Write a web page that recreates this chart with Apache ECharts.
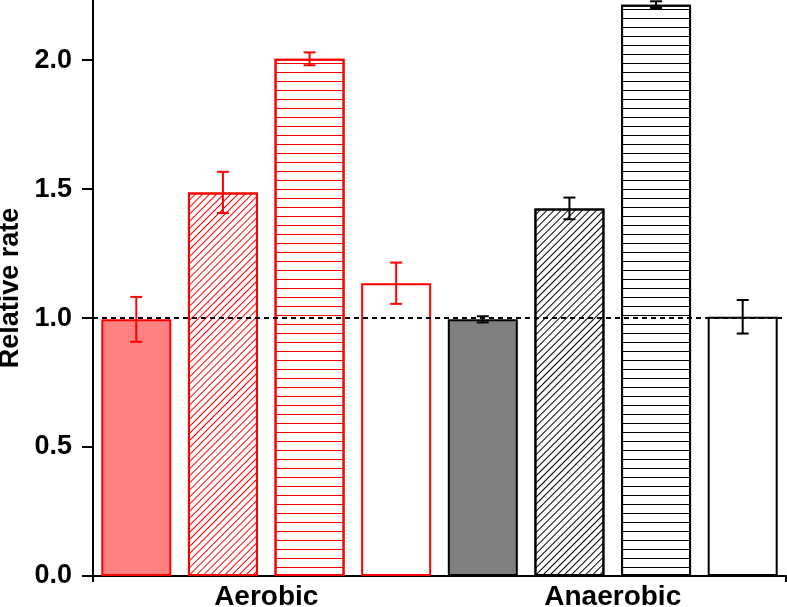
<!DOCTYPE html>
<html><head><meta charset="utf-8">
<script src="https://cdn.jsdelivr.net/npm/echarts@6/dist/echarts.min.js"></script>
<style>html,body{margin:0;padding:0;background:#fff}#chart{width:787px;height:607px}</style>
</head><body><div id="chart"></div>
<script>
// ---- data ----
const groupLabels = ['Aerobic', 'Anaerobic'];
const barKeys = ['Aerobic 1', 'Aerobic 2', 'Aerobic 3', 'Aerobic 4', 'Anaerobic 1', 'Anaerobic 2', 'Anaerobic 3', 'Anaerobic 4'];
const aerobicValues = [0.995, 1.487, 2.005, 1.135];
const aerobicErrors = [0.087, 0.080, 0.025, 0.080];
const anaerobicValues = [0.995, 1.425, 2.215, 1.005];
const anaerobicErrors = [0.012, 0.042, 0.013, 0.065];
const yTicks = [0, 0.5, 1.0, 1.5, 2.0];
const referenceValue = 1.0;
const yMax = 2.233;

// ---- styles ----
const RED = '#FF0000', BLACK = '#000000';
const FONT = 'Liberation Sans, Arial, sans-serif';
function diag(c) { return { symbol: 'rect', symbolSize: 1, color: c, dashArrayX: [1, 0], dashArrayY: [1, 4], rotation: -Math.PI / 4 }; }
function horiz(c) { return { symbol: 'rect', symbolSize: 1, color: c, dashArrayX: [1, 0], dashArrayY: [1, 8], rotation: 0 }; }
const barStyles = [
  { color: '#FF8080', borderColor: RED },
  { color: '#FFFFFF', borderColor: RED, decal: diag(RED) },
  { color: '#FFFFFF', borderColor: RED, decal: horiz(RED) },
  { color: '#FFFFFF', borderColor: RED },
  { color: '#808080', borderColor: BLACK },
  { color: '#FFFFFF', borderColor: BLACK, decal: diag(BLACK) },
  { color: '#FFFFFF', borderColor: BLACK, decal: horiz(BLACK) },
  { color: '#FFFFFF', borderColor: BLACK }
];
const errorColors = [RED, RED, RED, RED, BLACK, BLACK, BLACK, BLACK];

const allValues = aerobicValues.concat(anaerobicValues);
const allErrors = aerobicErrors.concat(anaerobicErrors);
const barData = allValues.map((v, i) => ({
  value: v,
  itemStyle: Object.assign({ borderWidth: 2 }, barStyles[i])
}));
const errData = allValues.map((v, i) => [i, v, allErrors[i]]);

const chart = echarts.init(document.getElementById('chart'), null, { renderer: 'canvas' });
chart.setOption({
  animation: false,
  backgroundColor: '#FFFFFF',
  textStyle: { fontFamily: FONT },
  grid: { left: 93, right: 1, top: 0, bottom: 31, containLabel: false, outerBoundsMode: 'none' },
  xAxis: [
    { type: 'category', data: barKeys, position: 'bottom', boundaryGap: true,
      axisLine: { show: false }, axisTick: { show: false }, axisLabel: { show: false }, splitLine: { show: false } },
    { type: 'category', data: groupLabels, position: 'bottom', offset: 0,
      axisLine: { show: false }, axisTick: { show: false }, splitLine: { show: false },
      axisLabel: { show: true, color: BLACK, fontSize: 28, fontWeight: 'bold', fontFamily: FONT, margin: 7 } },
    { type: 'value', min: 0, max: 1, interval: 1, position: 'bottom', offset: 0,
      axisLine: { show: true, onZero: false, lineStyle: { color: BLACK, width: 2 } },
      axisTick: { show: true, inside: false, length: 6, lineStyle: { color: BLACK, width: 2 } },
      axisLabel: { show: false }, splitLine: { show: false } }
  ],
  yAxis: {
    type: 'value', min: 0, max: yMax,
    name: 'Relative rate', nameLocation: 'middle', nameGap: 64, nameRotate: 90,
    nameTextStyle: { color: BLACK, fontSize: 27, fontWeight: 'bold', fontFamily: FONT },
    axisLine: { show: true, onZero: false, lineStyle: { color: BLACK, width: 2 } },
    axisTick: { show: true, inside: false, length: 11, customValues: yTicks, lineStyle: { color: BLACK, width: 2 } },
    axisLabel: { show: true, customValues: yTicks, margin: 21, color: BLACK, fontSize: 27, fontWeight: 'bold', fontFamily: FONT,
      formatter: v => Number(v).toFixed(1) },
    splitLine: { show: false }
  },
  series: [
    {
      type: 'bar', xAxisIndex: 0, yAxisIndex: 0, data: barData, barWidth: '80.8%', z: 2,
      markLine: {
        silent: true, symbol: ['none', 'none'], label: { show: false },
        lineStyle: { type: [5, 4], color: BLACK, width: 2 },
        data: [{ yAxis: referenceValue }]
      }
    },
    {
      type: 'custom', xAxisIndex: 0, yAxisIndex: 0, data: errData, z: 3,
      encode: { x: 0, y: 1 },
      renderItem: function (params, api) {
        const x = api.value(0), y = api.value(1), e = api.value(2);
        const top = api.coord([x, y + e]);
        const bot = api.coord([x, y - e]);
        const hw = 6;
        const style = { stroke: errorColors[params.dataIndex], lineWidth: 2 };
        return {
          type: 'group',
          children: [
            { type: 'line', shape: { x1: top[0], y1: top[1], x2: bot[0], y2: bot[1] }, style: style },
            { type: 'line', shape: { x1: top[0] - hw, y1: top[1], x2: top[0] + hw, y2: top[1] }, style: style },
            { type: 'line', shape: { x1: bot[0] - hw, y1: bot[1], x2: bot[0] + hw, y2: bot[1] }, style: style }
          ]
        };
      }
    }
  ]
});
</script></body></html>
